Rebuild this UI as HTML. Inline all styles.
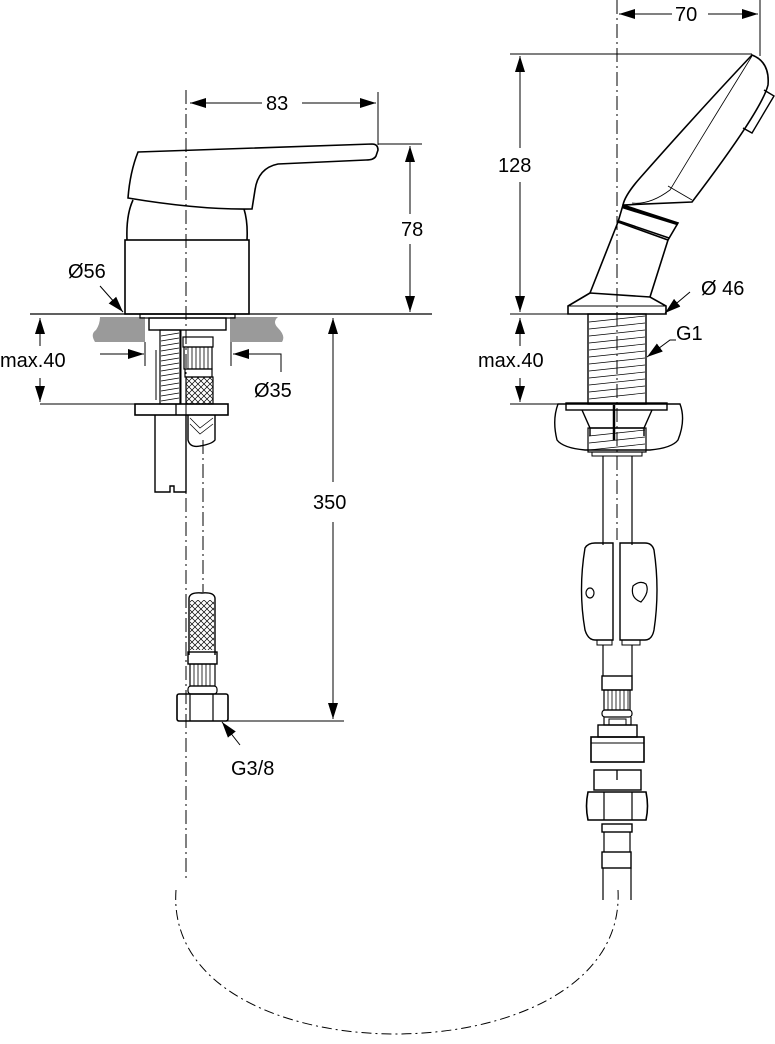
<!DOCTYPE html>
<html><head><meta charset="utf-8"><style>
html,body{margin:0;padding:0;background:#fff;}
svg{display:block;}
text{font-family:"Liberation Sans",sans-serif;font-size:20px;fill:#000;}
</style></head><body>
<svg width="775" height="1044" viewBox="0 0 775 1044" xmlns="http://www.w3.org/2000/svg">
<defs>
<marker id="b" viewBox="0 0 16 10" refX="16" refY="5" markerWidth="16" markerHeight="12" orient="auto-start-reverse" markerUnits="userSpaceOnUse"><path d="M0,0 L16,5 L0,10 z" fill="#000"/></marker>
<pattern id="hatch" width="6" height="6" patternUnits="userSpaceOnUse"><path d="M0,6 L6,0 M0,0 L6,6" stroke="#000" stroke-width="0.7"/></pattern>
</defs>
<g fill="none" stroke="#000" stroke-width="1.3">
<line x1="186" y1="90" x2="186" y2="880" stroke-width="1" stroke-dasharray="14,4,2,4"/>
<line x1="617" y1="0" x2="617" y2="540" stroke-width="1" stroke-dasharray="14,4,2,4"/>
<line x1="203" y1="440" x2="203" y2="592" stroke-width="1" stroke-dasharray="14,4,2,4"/>
<path d="M176 890 C 162 1082, 628 1082, 618 890" stroke-width="1" stroke-dasharray="10,4,2,4"/>

<line x1="378" y1="92" x2="378" y2="145" stroke-width="1"/>
<line x1="190" y1="103" x2="262" y2="103" stroke-width="1" marker-start="url(#b)"/>
<line x1="302" y1="103" x2="376" y2="103" stroke-width="1" marker-end="url(#b)"/>
<line x1="378" y1="144" x2="422" y2="144" stroke-width="1"/>
<line x1="410" y1="146" x2="410" y2="214" stroke-width="1" marker-start="url(#b)"/>
<line x1="410" y1="244" x2="410" y2="312" stroke-width="1" marker-end="url(#b)"/>
<line x1="30" y1="314" x2="432" y2="314" stroke-width="1.2"/>

<path d="M138 152 L372 144 Q378 144 378 150 L376 156 Q374 160 366 160 L278 164 Q258 168 255 190 L252 209 Q200 210 128 198 Q130 172 138 152 Z" stroke-width="1.6"/>
<path d="M133 200 Q126 215 127 240 M244 209 Q248 222 247 240" stroke-width="1.6"/>
<rect x="125" y="240" width="124" height="74" stroke-width="1.6"/>
<path d="M100 317 L145 317 L145 342 L95 342 Q90 334 96 330 Q100 324 100 317 Z" fill="#9a9a9a" stroke="none"/>
<path d="M230 317 L278 317 Q272 322 278 328 Q286 336 282 342 L230 342 Z" fill="#9a9a9a" stroke="none"/>
<rect x="140" y="314" width="95" height="4" stroke-width="1.2"/>
<rect x="149" y="318" width="77" height="12" stroke-width="1.4"/>
<rect x="160" y="330" width="20" height="74" stroke-width="1.2"/>
<g stroke-width="0.8"><path d="M161 336 L179 333 M161 341 L179 338 M161 346 L179 343 M161 351 L179 348 M161 356 L179 353 M161 361 L179 358 M161 366 L179 363 M161 371 L179 368 M161 376 L179 373 M161 381 L179 378 M161 386 L179 383 M161 391 L179 388 M161 396 L179 393 M161 401 L179 398"/></g>
<line x1="156" y1="350" x2="156" y2="400" stroke-width="1"/>
<rect x="183" y="337" width="30" height="10" stroke-width="1.2"/>
<rect x="184" y="347" width="28" height="22" stroke-width="1.2"/>
<path d="M188 347 V369 M192 347 V369 M196 347 V369 M200 347 V369 M204 347 V369 M208 347 V369" stroke-width="0.8"/>
<rect x="185" y="369" width="27" height="8" stroke-width="1.2"/>
<rect x="186" y="377" width="27" height="27" fill="url(#hatch)" stroke-width="1.2"/>
<line x1="181" y1="330" x2="181" y2="404" stroke-width="1"/>
<rect x="135" y="404" width="93" height="11" stroke-width="1.6"/>
<line x1="176" y1="404" x2="176" y2="415"/>
<path d="M155 415 L155 492 L170 492 L170 486 L174 486 L174 492 L186 492 L186 415" stroke-width="1.4"/>
<path d="M188 415 V440 Q190 448 200 446 Q212 444 215 440 V415" stroke-width="1.4"/>
<path d="M190 418 L200 428 L213 418 M190 424 L200 434 L213 424" stroke-width="0.7"/>
<line x1="40" y1="404" x2="135" y2="404" stroke-width="1"/>
<line x1="40" y1="318" x2="40" y2="346" stroke-width="1" marker-start="url(#b)"/>
<line x1="40" y1="378" x2="40" y2="402" stroke-width="1" marker-end="url(#b)"/>
<line x1="100" y1="354" x2="144" y2="354" stroke-width="1" marker-end="url(#b)"/>
<line x1="145" y1="342" x2="145" y2="366" stroke-width="1"/>
<line x1="231" y1="342" x2="231" y2="366" stroke-width="1"/>
<path d="M281 372 V354 H233" stroke-width="1" marker-end="url(#b)"/>
<line x1="100" y1="286" x2="123" y2="312" stroke-width="1" marker-end="url(#b)"/>

<path d="M189 655 V598 Q190 592 202 593 Q214 592 215 598 V655" stroke-width="1.4"/>
<rect x="190" y="600" width="24" height="50" fill="url(#hatch)" stroke="none"/>
<rect x="188" y="652" width="29" height="12" stroke-width="1.4"/>
<rect x="190" y="664" width="25" height="22" stroke-width="1.2"/>
<path d="M194 664 V686 M198 664 V686 M202 664 V686 M206 664 V686 M210 664 V686" stroke-width="0.8"/>
<rect x="188" y="686" width="29" height="8" rx="3" stroke-width="1.2"/>
<rect x="177" y="694" width="51" height="27" rx="2" stroke-width="1.6"/>
<path d="M190 694 V721 M213 694 V721" stroke-width="1.2"/>
<line x1="227" y1="721" x2="344" y2="721" stroke-width="1"/>
<line x1="333" y1="318" x2="333" y2="482" stroke-width="1" marker-start="url(#b)"/>
<line x1="333" y1="522" x2="333" y2="719" stroke-width="1" marker-end="url(#b)"/>
<line x1="240" y1="745" x2="222" y2="722" stroke-width="1" marker-end="url(#b)"/>

<line x1="760" y1="0" x2="760" y2="56" stroke-width="1"/>
<line x1="619" y1="14" x2="672" y2="14" stroke-width="1" marker-start="url(#b)"/>
<line x1="708" y1="14" x2="758" y2="14" stroke-width="1" marker-end="url(#b)"/>
<line x1="510" y1="54" x2="752" y2="54" stroke-width="1"/>
<line x1="510" y1="314" x2="664" y2="314" stroke-width="1"/>
<line x1="520" y1="56" x2="520" y2="148" stroke-width="1" marker-start="url(#b)"/>
<line x1="520" y1="182" x2="520" y2="312" stroke-width="1" marker-end="url(#b)"/>
<line x1="510" y1="404" x2="565" y2="404" stroke-width="1"/>
<line x1="520" y1="318" x2="520" y2="346" stroke-width="1" marker-start="url(#b)"/>
<line x1="520" y1="378" x2="520" y2="402" stroke-width="1" marker-end="url(#b)"/>

<path d="M752 55 Q770 62 768 85 Q762 110 692 202 L623 205 Q625 195 640 178 Q700 110 752 55 Z" stroke-width="1.6"/>
<path d="M752 56 Q700 140 670 190 Q650 205 632 203" stroke-width="0.8"/>
<path d="M668 186 L692 200" stroke-width="0.8"/>
<path d="M764 90 L774 96 L752 133 L743 128" stroke-width="1.4"/>
<path d="M623 205 L678 223 L668 240 L618 222 Z" stroke-width="1.6"/>
<line x1="623" y1="207" x2="678" y2="224" stroke-width="3"/>
<line x1="619" y1="221" x2="669" y2="238" stroke-width="1.6"/>
<path d="M618 222 L590 293 M668 240 L650 297" stroke-width="1.6"/>
<path d="M590 293 L650 297 L666 306 L666 314 L568 314 L568 306 Z" stroke-width="1.6"/>
<line x1="568" y1="306" x2="666" y2="306" stroke-width="1"/>
<line x1="690" y1="292" x2="665" y2="313" stroke-width="1" marker-end="url(#b)"/>
<rect x="588" y="314" width="58" height="90" stroke-width="1.4"/>
<path d="M589 322 L645 316 M589 329 L645 323 M589 336 L645 330 M589 343 L645 337 M589 350 L645 344 M589 357 L645 351 M589 364 L645 358 M589 371 L645 365 M589 378 L645 372 M589 385 L645 379 M589 392 L645 386 M589 399 L645 393" stroke-width="0.7"/>
<path d="M676 340 L670 340 L647 357" stroke-width="1" marker-end="url(#b)"/>
<path d="M558 404 H680 Q686 420 678 440 Q672 448 650 450 H585 Q563 448 557 440 Q552 420 558 404 Z" stroke-width="1.4"/>
<rect x="566" y="403" width="101" height="7" stroke-width="1.4"/>
<path d="M582 410 L590 428 L644 428 L652 410 M590 428 V436 M644 428 V436" stroke-width="1.4"/>
<rect x="588" y="428" width="58" height="24" stroke-width="1.2"/>
<path d="M589 436 L645 430 M589 443 L645 437 M589 450 L645 444" stroke-width="0.7"/>
<line x1="614" y1="405" x2="614" y2="440" stroke-width="2.5"/>
<rect x="592" y="452" width="50" height="4" stroke-width="1"/>
<path d="M603 456 V545 M632 456 V545" stroke-width="1.2"/>
<path d="M585 548 Q588 543 595 543 H613 V640 H595 Q588 640 585 630 Q578 590 585 548 Z" stroke-width="1.4"/>
<path d="M620 543 H645 Q652 543 654 550 Q660 590 654 630 Q652 640 645 640 H620 Z" stroke-width="1.4"/>
<ellipse cx="590" cy="593" rx="4" ry="5" stroke-width="1.2"/>
<path d="M633 586 Q640 580 646 584 Q650 592 641 602 Q630 598 633 586 Z" stroke-width="1.2"/>
<path d="M597 640 V645 H612 V640 M622 640 V645 H640 V640" stroke-width="1"/>
<path d="M603 645 V676 M632 645 V676" stroke-width="1.2"/>
<rect x="602" y="676" width="30" height="14" stroke-width="1.4"/>
<rect x="604" y="690" width="26" height="20" stroke-width="1.2"/>
<path d="M608 690 V710 M612 690 V710 M616 690 V710 M620 690 V710 M624 690 V710 M628 690 V710" stroke-width="0.8"/>
<rect x="602" y="710" width="30" height="7" rx="3" stroke-width="1.2"/>
<path d="M604 717 V725 H631 V717" stroke-width="1.2"/>
<rect x="609" y="719" width="17" height="6" stroke-width="1"/>
<rect x="598" y="725" width="39" height="12" stroke-width="1.4"/>
<rect x="591" y="737" width="53" height="25" stroke-width="1.6"/>
<line x1="591" y1="743" x2="644" y2="743" stroke-width="1"/>
<rect x="594" y="770" width="47" height="20" stroke-width="1.4"/>
<line x1="617" y1="770" x2="617" y2="780"/>
<line x1="594" y1="762" x2="641" y2="762" stroke-width="1"/>
<path d="M588 792 H646 Q649 806 646 820 H588 Q585 806 588 792 Z" stroke-width="1.6"/>
<path d="M604 792 V820 M632 792 V820" stroke-width="1.2"/>
<rect x="602" y="824" width="30" height="8" stroke-width="1.4"/>
<path d="M604 832 V852 M630 832 V852" stroke-width="1.2"/>
<rect x="602" y="852" width="29" height="16" stroke-width="1.4"/>
<path d="M603 868 V900 M631 868 V900" stroke-width="1.2"/>
</g>
<text x="266" y="110">83</text>
<text x="401" y="236">78</text>
<text x="68" y="278">Ø56</text>
<text x="0" y="367">max.40</text>
<text x="254" y="397">Ø35</text>
<text x="313" y="509">350</text>
<text x="231" y="775">G3/8</text>
<text x="675" y="21">70</text>
<text x="498" y="172">128</text>
<text x="701" y="295">Ø 46</text>
<text x="676" y="340">G1</text>
<text x="478" y="367">max.40</text>
</svg>
</body></html>
